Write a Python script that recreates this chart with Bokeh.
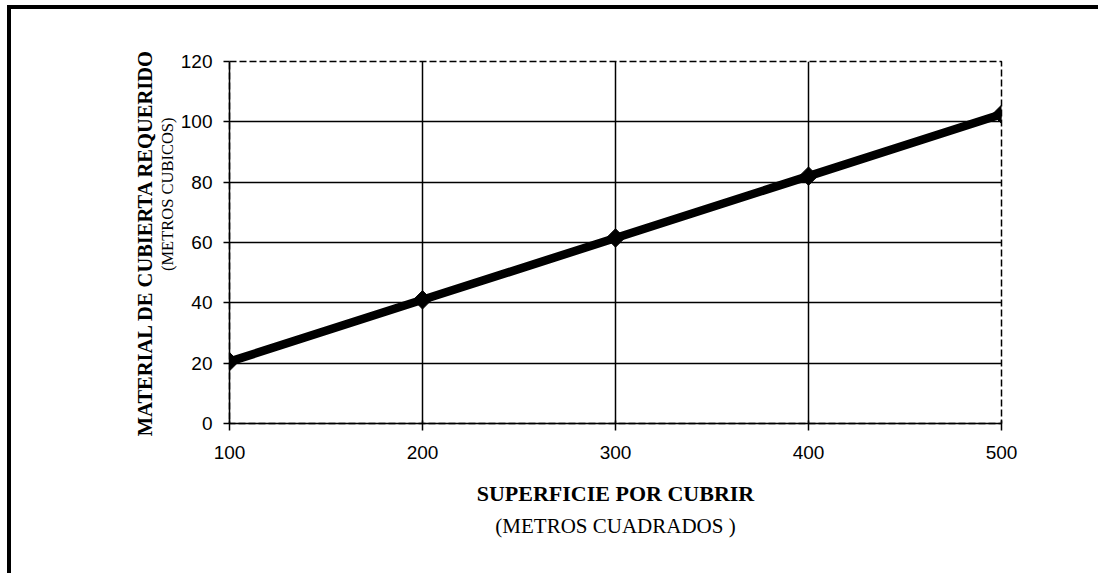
import math
from bokeh.plotting import figure
from bokeh.models import Title, FixedTicker, Range1d
from bokeh.layouts import column
from bokeh.embed import file_html
from bokeh.resources import INLINE

# data
superficie = [100, 200, 300, 400, 500]
material = [20.5, 41, 61.5, 82, 102.5]
x_ticks = [100, 200, 300, 400, 500]
y_ticks = [0, 20, 40, 60, 80, 100, 120]

x_title = "SUPERFICIE POR CUBRIR"
x_sub = "(METROS CUADRADOS )"
y_title = "MATERIAL DE CUBIERTA REQUERIDO"
y_sub = "(METROS CUBICOS)"

SERIF = "Liberation Serif"
SANS = "Liberation Sans"

p = figure(
    output_backend="svg", toolbar_location=None,
    frame_width=772, frame_height=362,
    min_border_left=218, min_border_right=97, min_border_top=52, min_border_bottom=150,
    x_range=Range1d(100, 500), y_range=Range1d(0, 120),
    background_fill_color="white", border_fill_color="white",
)

p.outline_line_color = "black"
p.outline_line_width = 1.5
p.outline_line_dash = "7 3"

for ax, ticks in ((p.xaxis[0], x_ticks), (p.yaxis[0], y_ticks)):
    ax.ticker = FixedTicker(ticks=ticks)
    ax.axis_line_color = "black"
    ax.axis_line_width = 1.5
    ax.major_tick_line_color = "black"
    ax.major_tick_line_width = 1.5
    ax.minor_tick_line_color = None
    ax.major_label_text_font = SANS
    ax.major_label_text_font_size = "19px"
    ax.major_label_text_color = "black"

p.xaxis.major_tick_in = 3
p.xaxis.major_tick_out = 7
p.xaxis.major_label_standoff = 15
p.yaxis.major_tick_in = 0
p.yaxis.major_tick_out = 6
p.yaxis.major_label_standoff = 11

p.xaxis.axis_label = x_title
p.xaxis.axis_label_text_font = SERIF
p.xaxis.axis_label_text_font_style = "bold"
p.xaxis.axis_label_text_font_size = "22px"
p.xaxis.axis_label_text_color = "black"
p.xaxis.axis_label_standoff = 19

p.xgrid.ticker = FixedTicker(ticks=x_ticks)
p.ygrid.ticker = FixedTicker(ticks=y_ticks)
p.xgrid.grid_line_color = "black"
p.ygrid.grid_line_color = "black"
p.xgrid.grid_line_width = 1.5
p.ygrid.grid_line_width = 1.5

p.add_layout(Title(text=x_sub, text_font=SERIF, text_font_size="21px",
                   text_font_style="normal", text_color="black", align="center",
                   vertical_align="middle", standoff=9), "below")

p.add_layout(Title(text=y_sub, text_font=SERIF, text_font_size="16.5px",
                   text_font_style="normal", text_color="black", align="right",
                   offset=56, vertical_align="middle", standoff=0), "left")
p.add_layout(Title(text=y_title, text_font=SERIF, text_font_size="20.5px",
                   text_font_style="bold", text_color="black", align="center",
                   vertical_align="middle", standoff=0), "left")

p.line(superficie, material, line_color="black", line_width=8.5)
p.scatter(superficie, material, marker="square", angle=math.pi / 4, size=13,
          fill_color="black", line_color="black")

layout = column(p, styles={"border-top": "4px solid black", "border-left": "4px solid black",
                           "margin-left": "7px", "margin-top": "5px"})

open("out.html", "w").write(file_html(layout, INLINE))
